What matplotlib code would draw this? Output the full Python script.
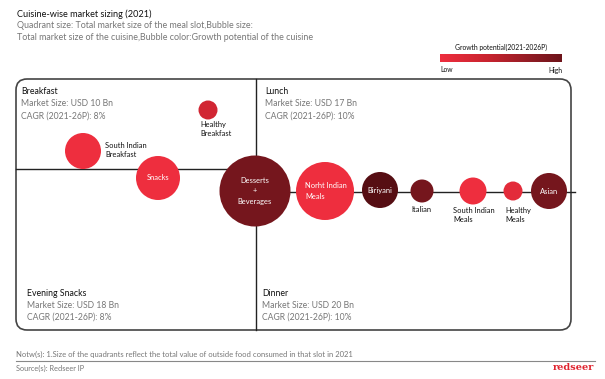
import numpy as np
import matplotlib
matplotlib.use("Agg")
import matplotlib.pyplot as plt
from matplotlib.patches import Circle, FancyBboxPatch
from matplotlib.colors import LinearSegmentedColormap

plt.rcParams['font.family'] = ['Lato', 'DejaVu Sans']

# quadrant info
quadrants = ["Breakfast", "Lunch", "Evening Snacks", "Dinner"]
market_size = ["USD 10 Bn", "USD 17 Bn", "USD 18 Bn", "USD 20 Bn"]
cagr = ["8%", "10%", "8%", "10%"]

# bubbles (x, y in canvas px, radius ~ market size of cuisine, growth 0..1)
cuisines = ["Healthy\nBreakfast", "South Indian\nBreakfast", "Snacks", "Desserts\n+\nBeverages",
            "Norht Indian\nMeals", "Biriyani", "Italian", "South Indian\nMeals", "Healthy\nMeals", "Asian"]
bx = [208, 83, 158, 255, 325, 380, 422, 473, 513, 549]
by = [110, 151, 178, 191, 191, 190, 191, 191, 191, 191]
br = [9.5, 18, 22, 35.5, 29, 18, 11.5, 13.5, 9.5, 18]
growth = [0.25, 0.0, 0.0, 0.8, 0.0, 1.0, 0.8, 0.0, 0.1, 0.8]

cmap = LinearSegmentedColormap.from_list("g", ["#EE2E3E", "#C8242F", "#8A1B23", "#560E13"])

fig = plt.figure(figsize=(6.05, 3.79), dpi=100)
ax = fig.add_axes([0, 0, 1, 1])
ax.set_xlim(0, 605)
ax.set_ylim(379, 0)
ax.axis('off')

# titles
ax.text(17, 14, "Cuisine-wise market sizing (2021)", fontsize=6.6, color="#111111", va="center")
ax.text(17, 26, "Quadrant size: Total market size of the meal slot,Bubble size:", fontsize=6.4, color="#777777", va="center")
ax.text(17, 38, "Total market size of the cuisine,Bubble color:Growth potential of the cuisine", fontsize=6.4, color="#777777", va="center")

# colour legend
ax.text(501, 47, "Growth potential(2021-2026P)", fontsize=4.9, color="#111111", ha="center", va="center")
grad = np.linspace(0, 0.85, 256).reshape(1, -1)
ax.imshow(grad, cmap=cmap, vmin=0, vmax=1, extent=(440, 562, 62, 54), aspect='auto')
ax.text(440, 70, "Low", fontsize=4.9, color="#111111", va="center")
ax.text(562, 70, "High", fontsize=4.9, color="#111111", va="center", ha="right")

# outer box and dividers
box = FancyBboxPatch((16, 79), 555, 251, boxstyle="round,pad=0,rounding_size=11",
                     fc="none", ec="#444444", lw=1.2)
ax.add_patch(box)
ax.plot([256, 256], [79, 330], color="#222222", lw=1.0)
ax.plot([16, 256], [169, 169], color="#222222", lw=1.0)
ax.plot([256, 575], [192, 192], color="#222222", lw=1.0)

# quadrant text
qpos = [(21, 92), (265, 92), (27, 293), (262, 293)]
for (qx, qy), q, m, c in zip(qpos, quadrants, market_size, cagr):
    ax.text(qx, qy, q, fontsize=6.3, color="#111111", va="center")
    ax.text(qx, qy + 12, "Market Size: " + m, fontsize=6.2, color="#777777", va="center")
    ax.text(qx, qy + 24, "CAGR (2021-26P): " + c, fontsize=6.2, color="#777777", va="center")

# bubbles
inside = [False, False, True, True, True, True, False, False, False, True]
outside_pos = [(200, 129, "left"), (105, 150, "left"), None, None, None, None,
               (411, 210, "left"), (453, 215, "left"), (505, 215, "left"), None]
for i, name in enumerate(cuisines):
    ax.add_patch(Circle((bx[i], by[i]), br[i], fc=cmap(growth[i]), ec="none", zorder=3))
    if inside[i]:
        ha = "left" if name.startswith("Norht") else "center"
        tx = bx[i] - 20 if ha == "left" else bx[i]
        ax.text(tx, by[i], name, fontsize=5.4, color="white", ha=ha, va="center",
                linespacing=1.6, zorder=4)
    else:
        ox, oy, ha = outside_pos[i]
        ax.text(ox, oy, name, fontsize=5.4, color="#111111", ha=ha, va="center",
                linespacing=1.4, zorder=4)

# footer
ax.text(16, 354, "Notw(s): 1.Size of the quadrants reflect the total value of outside food consumed in that slot in 2021",
        fontsize=5.5, color="#777777", va="center")
ax.plot([16, 595], [361, 361], color="#888888", lw=0.8)
ax.text(16, 368, "Source(s): Redseer IP", fontsize=5.3, color="#777777", va="center")
ax.text(594, 367, "redseer", fontsize=7, color="#E0242F", ha="right", va="center",
        family="DejaVu Serif", fontweight="bold")

fig.savefig("out.png", dpi=100)
